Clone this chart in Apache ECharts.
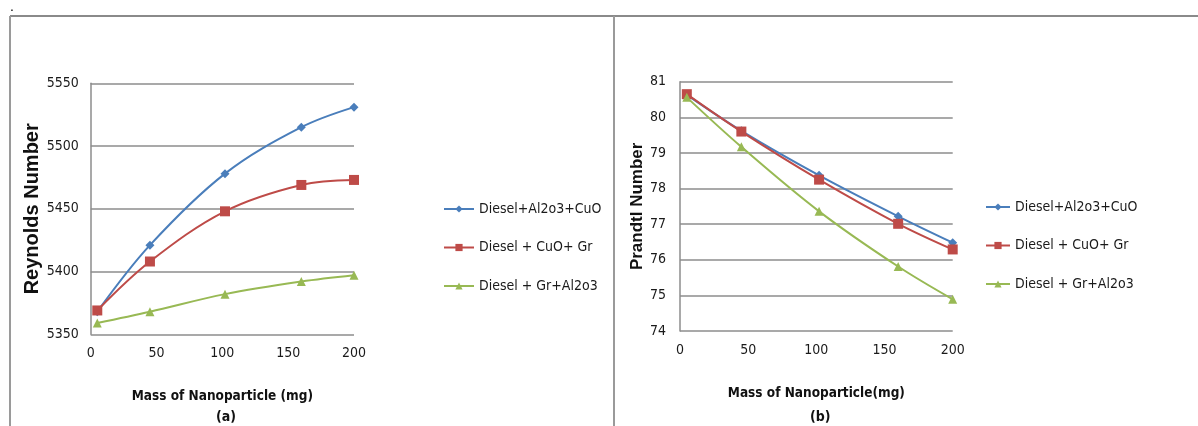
<!DOCTYPE html>
<html lang="en">
<head>
    <meta charset="UTF-8">
    <script src="https://cdn.jsdelivr.net/npm/echarts@6/dist/echarts.min.js"></script>
    <style>
        html, body { margin: 0; padding: 0; background: #fff; }
    </style>
</head>
<body>
<div style="width: 1198px;height: 426px" id="chart"></div>

<script>
    // data
    var mass = [5, 45, 102, 160, 200]
    var seriesNames = ['Diesel+Al2o3+CuO', 'Diesel + CuO+ Gr', 'Diesel + Gr+Al2o3']

    var reynoldsAlCu = [5368, 5421, 5478, 5515, 5531]
    var reynoldsCuGr = [5369, 5408, 5448, 5469, 5473]
    var reynoldsGrAl = [5359, 5368, 5382, 5392, 5397]

    var prandtlAlCu = [80.63, 79.62, 78.37, 77.22, 76.48]
    var prandtlCuGr = [80.65, 79.60, 78.25, 77.01, 76.29]
    var prandtlGrAl = [80.56, 79.17, 77.36, 75.81, 74.89]

    var colors = ['#4a7ebb', '#be4b48', '#98b954']
    var symbols = ['diamond', 'rect', 'triangle']
    var symbolSizes = [9, 10, 9]

    var narrow = '"DejaVu Sans Condensed", "Liberation Sans", sans-serif'
    var wide = '"Liberation Sans", Arial, sans-serif'

    function pairs(xs, ys) {
        return xs.map(function (x, i) { return [x, ys[i]] })
    }

    function makeSeries(values, axisIndex) {
        return values.map(function (v, i) {
            return {
                name: seriesNames[i],
                type: 'line',
                smooth: 0.35,
                xAxisIndex: axisIndex,
                yAxisIndex: axisIndex,
                symbol: symbols[i],
                symbolSize: symbolSizes[i],
                itemStyle: { color: colors[i] },
                lineStyle: { color: colors[i], width: 2 },
                data: pairs(mass, v)
            }
        })
    }

    var plain = function (v) { return String(v) }

    var xAxisCommon = {
        type: 'value',
        min: 0,
        max: 200,
        interval: 50,
        axisLine: { show: false },
        axisTick: { show: false },
        splitLine: { show: false },
        axisLabel: { color: '#1a1a1a', fontFamily: narrow, fontSize: 14, margin: 12, formatter: plain },
        nameLocation: 'middle',
        nameGap: 55,
        nameTextStyle: { color: '#111', fontFamily: narrow, fontWeight: 'bold', fontSize: 13.5 }
    }

    var yAxisCommon = {
        type: 'value',
        axisLine: { show: true, lineStyle: { color: '#8c8c8c', width: 1.5 } },
        axisTick: { show: false },
        splitLine: { show: true, lineStyle: { color: '#8c8c8c', width: 1.5 } },
        axisLabel: { color: '#1a1a1a', fontFamily: narrow, fontSize: 14, formatter: plain },
        nameLocation: 'middle',
        nameTextStyle: { color: '#111', fontFamily: wide, fontWeight: 'bold' }
    }

    var legendCommon = {
        orient: 'vertical',
        padding: 0,
        itemHeight: 9,
        itemGap: 24.5,
        textStyle: { color: '#1a1a1a', fontFamily: narrow, fontSize: 14 },
        data: seriesNames
    }

    var chartDom = document.getElementById('chart')
    var myChart = echarts.init(chartDom)

    var option = {
        animation: false,
        backgroundColor: '#fff',
        grid: [
            { left: 90.7, top: 83.3, width: 263.3, height: 251 },
            { left: 680, top: 81.7, width: 272.7, height: 249.3 }
        ],
        xAxis: [
            Object.assign({}, xAxisCommon, { gridIndex: 0, name: 'Mass of Nanoparticle (mg)' }),
            Object.assign({}, xAxisCommon, { gridIndex: 1, name: 'Mass of Nanoparticle(mg)' })
        ],
        yAxis: [
            Object.assign({}, yAxisCommon, {
                gridIndex: 0, min: 5350, max: 5550, interval: 50,
                name: 'Reynolds Number', nameGap: 36,
                axisLabel: Object.assign({}, yAxisCommon.axisLabel, { margin: 12 }),
                nameTextStyle: Object.assign({}, yAxisCommon.nameTextStyle, { fontSize: 20 })
            }),
            Object.assign({}, yAxisCommon, {
                gridIndex: 1, min: 74, max: 81, interval: 1,
                name: 'Prandtl Number', nameGap: 30,
                axisLabel: Object.assign({}, yAxisCommon.axisLabel, { margin: 14 }),
                nameTextStyle: Object.assign({}, yAxisCommon.nameTextStyle, { fontSize: 17 })
            })
        ],
        legend: [
            Object.assign({}, legendCommon, { left: 443, top: 202, itemWidth: 30 }),
            Object.assign({}, legendCommon, { left: 985, top: 200, itemWidth: 24 })
        ],
        series: makeSeries([reynoldsAlCu, reynoldsCuGr, reynoldsGrAl], 0)
            .concat(makeSeries([prandtlAlCu, prandtlCuGr, prandtlGrAl], 1)),
        graphic: [
            // outer frame and panel divider
            { type: 'line', shape: { x1: 10, y1: 16, x2: 1198, y2: 16 }, style: { stroke: '#8a8a8a', lineWidth: 2 } },
            { type: 'line', shape: { x1: 10, y1: 16, x2: 10, y2: 426 }, style: { stroke: '#9a9a9a', lineWidth: 2 } },
            { type: 'line', shape: { x1: 614, y1: 16, x2: 614, y2: 426 }, style: { stroke: '#9a9a9a', lineWidth: 2 } },
            { type: 'text', left: 10, top: 0, style: { text: '.', fill: '#000', font: '14px ' + wide } },
            // panel captions
            { type: 'text', left: 216, top: 410, style: { text: '(a)', fill: '#111', font: 'bold 14px ' + narrow } },
            { type: 'text', left: 810, top: 410, style: { text: '(b)', fill: '#111', font: 'bold 14px ' + narrow } }
        ]
    }

    option && myChart.setOption(option)
</script>
</body>
</html>
